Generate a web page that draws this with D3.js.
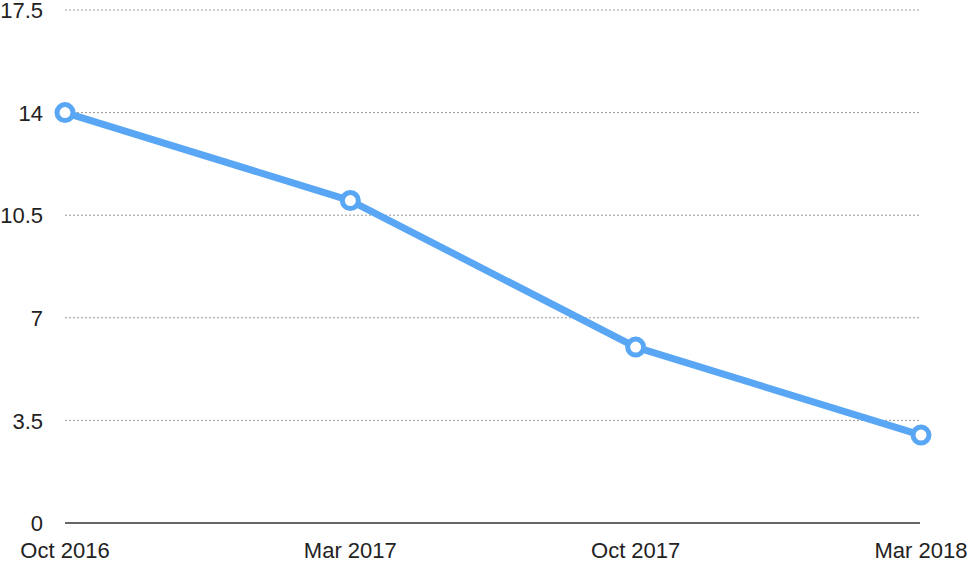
<!DOCTYPE html>
<html><head><meta charset="utf-8">
<script src="https://cdn.jsdelivr.net/npm/d3@7"></script>
<style>body{margin:0;background:#fff;}svg{display:block;}</style>
</head><body>
<svg id="c" width="969" height="563"></svg>
<script>
const categories = ["Oct 2016", "Mar 2017", "Oct 2017", "Mar 2018"];
const values = [14, 11, 6, 3];
const yTicks = [0, 3.5, 7, 10.5, 14, 17.5];

const svg = d3.select("#c");
const x = d3.scalePoint().domain(categories).range([65, 921]);
const y = d3.scaleLinear().domain([0, 17.5]).range([523, 10]);
const font = "'Liberation Sans', Arial, sans-serif";

// gridlines
svg.append("g").selectAll("line").data(yTicks.filter(d => d > 0)).join("line")
  .attr("x1", 65).attr("x2", 920)
  .attr("y1", d => y(d)).attr("y2", d => y(d))
  .attr("stroke", "#999").attr("stroke-width", 1).attr("stroke-dasharray", "2,2");
// baseline
svg.append("line").attr("x1", 65).attr("x2", 920).attr("y1", y(0)).attr("y2", y(0))
  .attr("stroke", "#333").attr("stroke-width", 1.5);

// y labels
svg.append("g").selectAll("text").data(yTicks).join("text")
  .attr("x", 43).attr("y", d => y(d)).attr("dy", "0.37em")
  .attr("text-anchor", "end").attr("font-family", font).attr("font-size", 22)
  .attr("fill", "#222").text(d => d);

// x labels
svg.append("g").selectAll("text").data(categories).join("text")
  .attr("x", d => x(d)).attr("y", 558)
  .attr("text-anchor", "middle").attr("font-family", font).attr("font-size", 22)
  .attr("fill", "#222").text(d => d);

const data = categories.map((c, i) => ({c, v: values[i]}));
const color = "#58a6f4";
svg.append("path").datum(data)
  .attr("d", d3.line().x(d => x(d.c)).y(d => y(d.v)))
  .attr("fill", "none").attr("stroke", color).attr("stroke-width", 7)
  .attr("stroke-linejoin", "round");
svg.append("g").selectAll("circle").data(data).join("circle")
  .attr("cx", d => x(d.c)).attr("cy", d => y(d.v)).attr("r", 8)
  .attr("fill", "#fff").attr("stroke", color).attr("stroke-width", 5);
</script>
</body></html>
